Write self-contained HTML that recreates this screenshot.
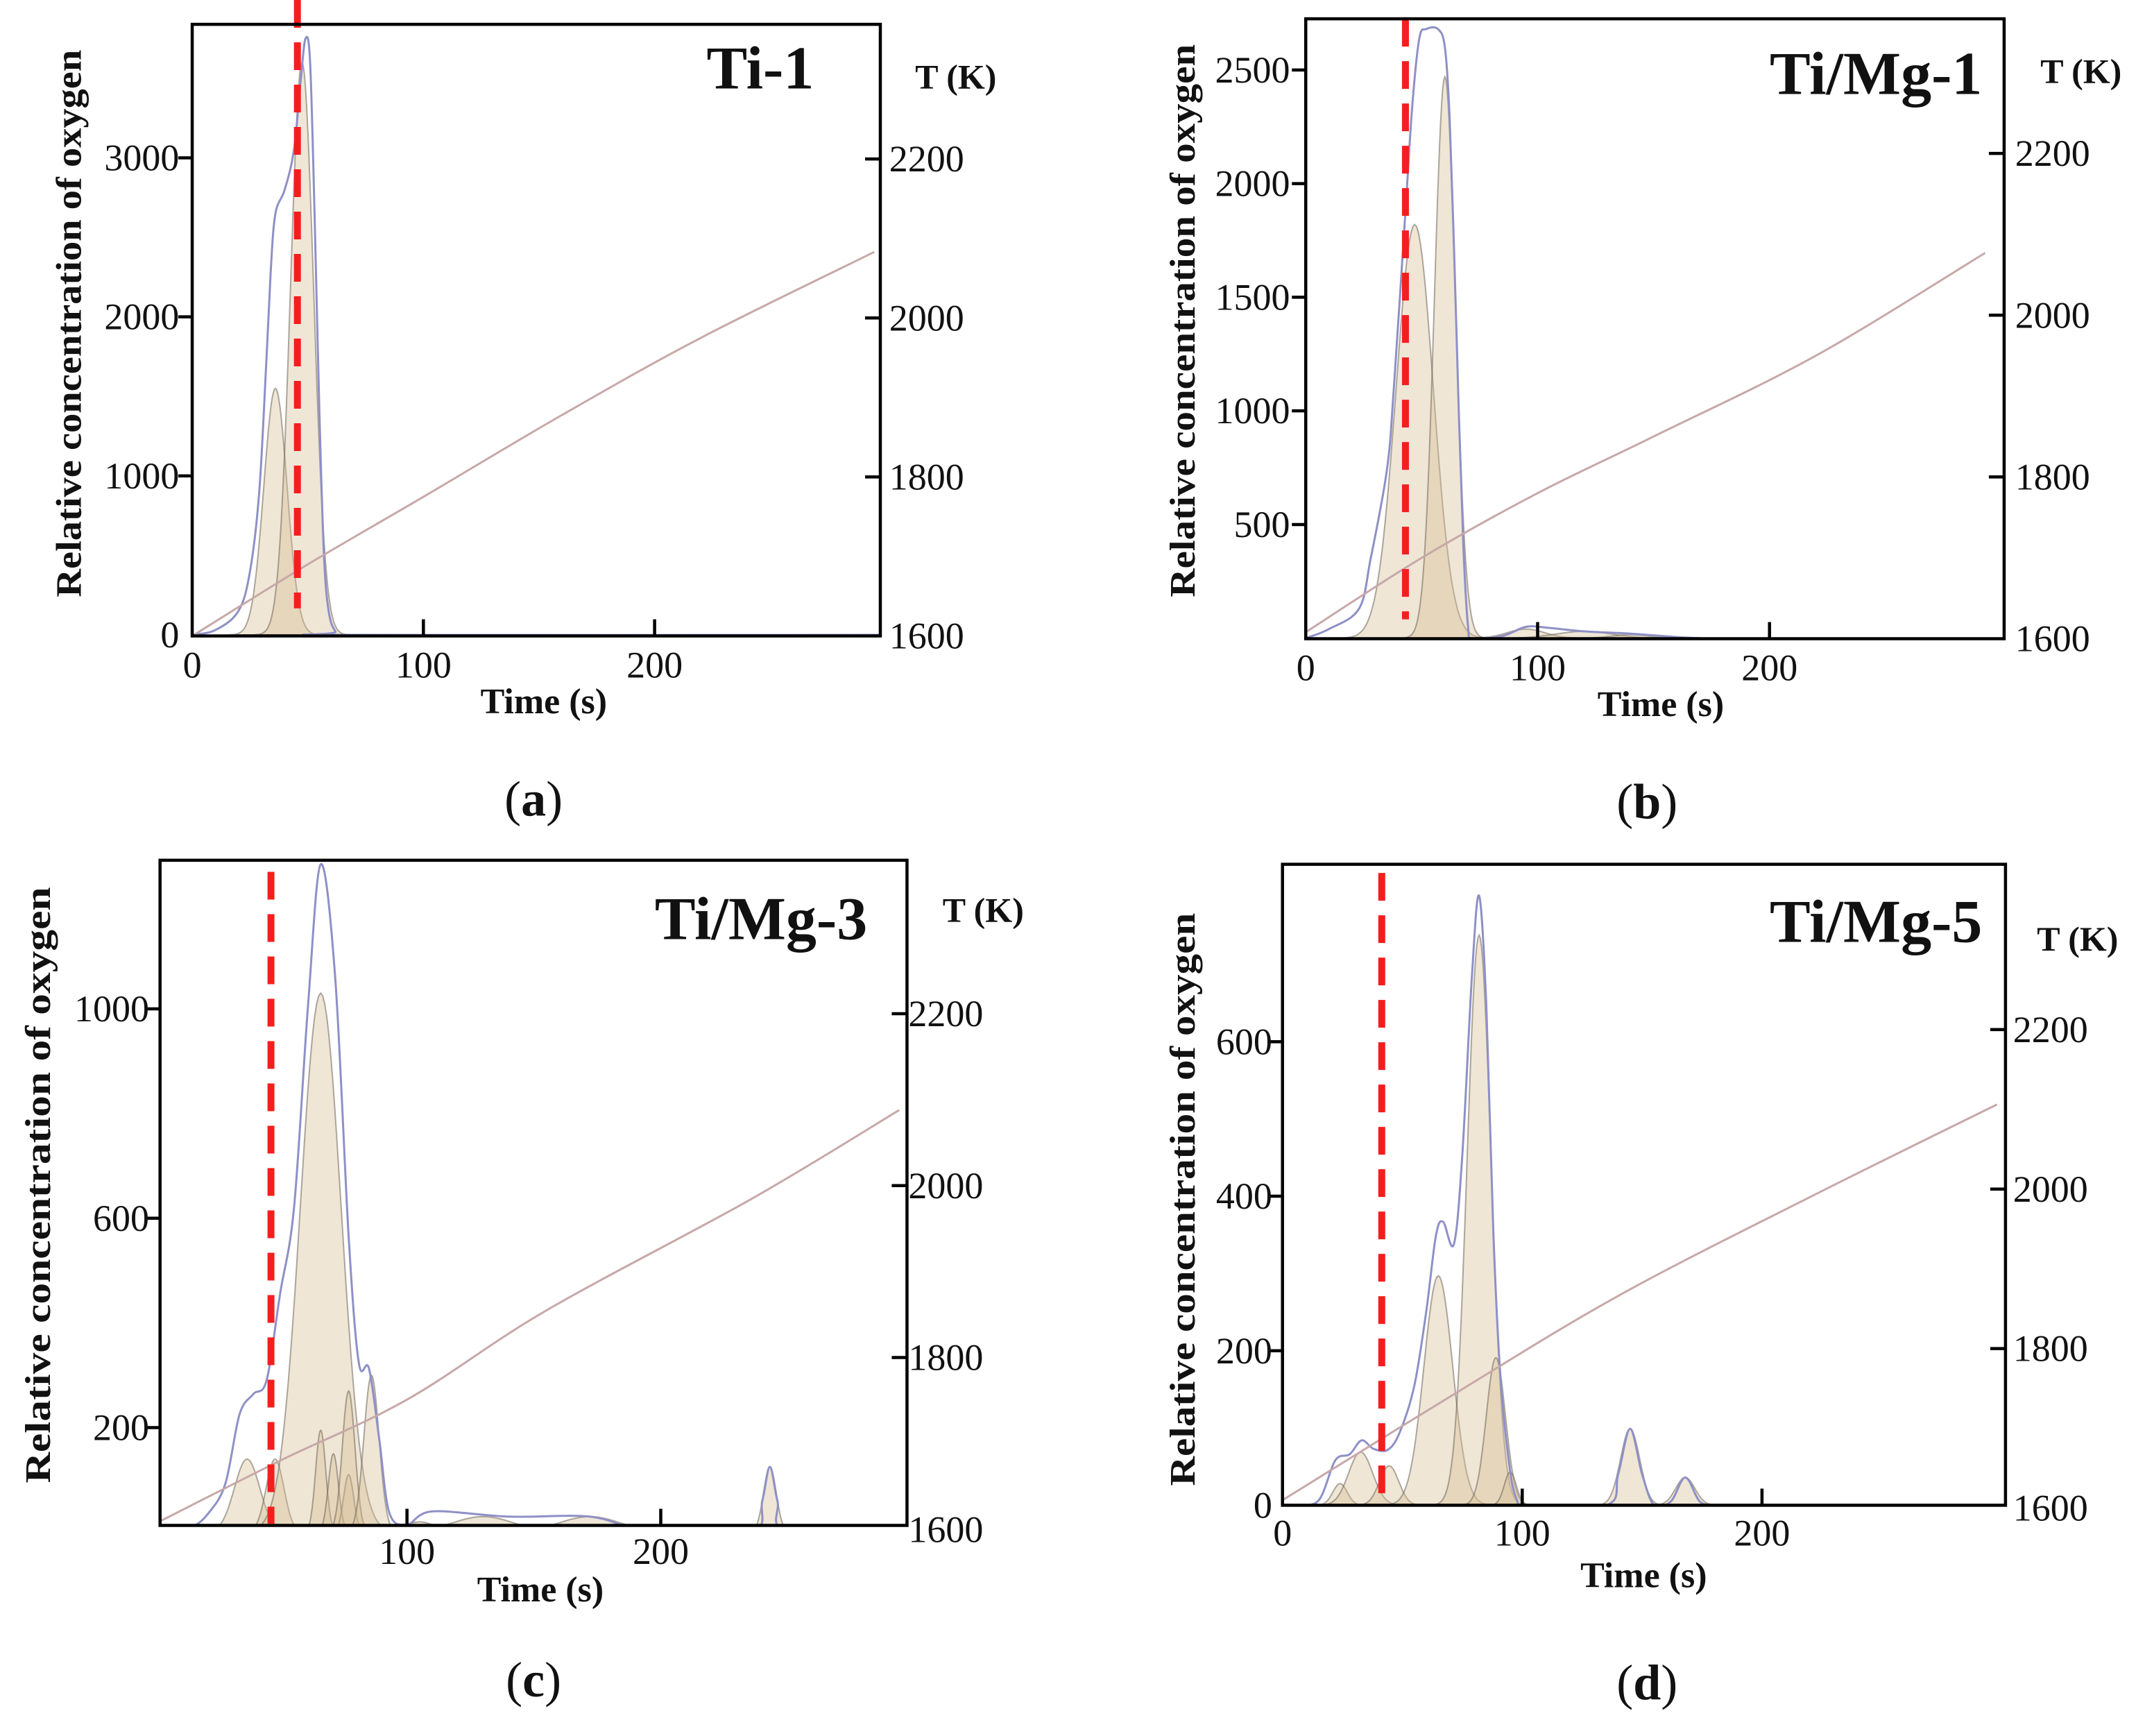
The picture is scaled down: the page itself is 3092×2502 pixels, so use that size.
<!DOCTYPE html>
<html><head><meta charset="utf-8"><style>
html,body{margin:0;padding:0;background:#fff;overflow:hidden}
svg{display:block}
text{font-family:"Liberation Serif",serif;fill:#111}
</style></head><body>
<svg id="fig" width="3092" height="2502" viewBox="0 0 3092 2502" xmlns="http://www.w3.org/2000/svg">
<defs></defs>
</svg>
<script>
// ---------- data ----------
// component peaks: [center time (s), height, sigma (s)]
const peaksA=[[36,1550,5],[47.5,3600,5]];
const peaksB=[[47,1820,8],[60,2470,4.5],[95,40,8],[120,30,12],[140,15,8]];
const peaksC=[[37,140,5],[48,140,3.5],[66,1030,8],[66,195,2],[71,150,2],[77,110,2],[77,270,2.5],[86,300,3],[105,20,6],[130,30,12],[172,30,12],[243,125,2.5]];
const peaksD=[[24,28,3],[32.6,69,5],[44.5,51,4],[65,297,6],[82,738,5],[89,191,4],[95,43,2.5],[145,99,4],[168,36,4]];
// measured envelope [t, value]
const envA=[[0,0],[10,30],[20,150],[25,400],[29,900],[32,1700],[34,2300],[36,2650],[40,2800],[44,3050],[47,3500],[49,3750],[51,3600],[53,2600],[55,1400],[57,500],[59,150],[62,20],[66,0],[297,0]];
const envB=[[0,0],[10,40],[23,130],[28,350],[35,740],[38,1100],[43,1880],[46,2350],[49,2640],[52,2680],[57,2680],[60,2600],[62,2300],[64,1700],[66,1000],[68,400],[70,50],[72,0],[85,10],[95,50],[105,45],[120,30],[140,20],[160,5],[170,0]];
const envC=[[3,0],[15,10],[22,38],[28.5,94],[34,225],[39.4,264],[44.7,291],[50,456],[55.5,621],[61,1006],[66,1276],[71.7,1061],[77,566],[81,324],[85,313],[89,181],[93,38],[100,15],[110,40],[140,30],[172,30],[190,5],[200,0],[236,0],[240,60],[243,125],[246,60],[250,0],[294,0]];
const envD=[[5,0],[15,6],[22,58],[28,66],[33,84],[38,73],[44,72],[49,95],[55,155],[60,252],[64,349],[67,367],[71.5,338],[75,453],[79,684],[82,789],[85,647],[88,349],[91,162],[95,43],[98,5],[100,0],[135,0],[140,40],[145,99],[150,40],[155,0],[162,5],[168,36],[174,5],[180,0]];
// temperature [t, K]
const tempA=[[0,1600],[50,1690],[100,1775],[160,1878],[220,1975],[295,2083]];
const tempB=[[0,1608],[50,1700],[100,1780],[150,1850],[220,1950],[293,2077]];
const tempC=[[3,1610],[50,1680],[100,1751],[155,1855],[236,1985],[294,2088]];
const tempD=[[0,1610],[70,1740],[140,1866],[220,1990],[298,2106]];
// reference time (red dashed line)
const markA=45.5, markB=43, markC=46.4, markD=41.4;
// tick labels
const xTicksAB=[0,100,200], xTicksC=[100,200], xTicksD=[0,100,200];
const yTicksA=[0,1000,2000,3000], yTicksB=[500,1000,1500,2000,2500], yTicksC=[200,600,1000], yTicksD=[0,200,400,600];
const tTicks=[1600,1800,2000,2200];
const titles=["Ti-1","Ti/Mg-1","Ti/Mg-3","Ti/Mg-5"];
const letters=["a","b","c","d"];

// ---------- layout ----------
const NS="http://www.w3.org/2000/svg";
const svg=document.getElementById('fig');
const defs=svg.querySelector('defs');
function mk(tag,attrs,parent){const e=document.createElementNS(NS,tag);for(const k in attrs)e.setAttribute(k,attrs[k]);(parent||svg).appendChild(e);return e;}
function smooth(pts){
 let d='M'+pts[0][0].toFixed(1)+','+pts[0][1].toFixed(1);
 for(let i=0;i<pts.length-1;i++){
  const p0=pts[Math.max(0,i-1)],p1=pts[i],p2=pts[i+1],p3=pts[Math.min(pts.length-1,i+2)];
  const c1x=p1[0]+(p2[0]-p0[0])/6,c1y=p1[1]+(p2[1]-p0[1])/6;
  const c2x=p2[0]-(p3[0]-p1[0])/6,c2y=p2[1]-(p3[1]-p1[1])/6;
  d+=' C'+c1x.toFixed(1)+','+c1y.toFixed(1)+' '+c2x.toFixed(1)+','+c2y.toFixed(1)+' '+p2[0].toFixed(1)+','+p2[1].toFixed(1);
 }
 return d;
}

const raw=[
 {id:'a',ox:0,oy:0,sx:0.986,sy:0.797,L:281,R:1287,T:44,B:1150,x0:281,xs:3.38,y0:1148,ys:0.2875,r0:1150,rs:1.4375,peaks:peaksA,env:envA,temp:tempA,mark:markA,mk0:0,mk1:1100,xt:xTicksAB,yt:yTicksA,
  ytx:100,yty:585,ytl:990,lblR:262,lblRx:1300,xlb:1225,timeX:795,timeY:1290,ttlX:1190,ttlY:160,tkX:1338,tkY:160,letX:780,letY:1475},
 {id:'b',ox:1546,oy:0,sx:0.986,sy:0.797,L:1887,R:2908,T:34,B:1155,x0:1887,xs:3.39,y0:1154,ys:0.411,r0:1155,rs:1.4625,peaks:peaksB,env:envB,temp:tempB,mark:markB,mk0:34,mk1:1120,xt:xTicksAB,yt:yTicksB,
  ytx:1706,yty:580,ytl:1000,lblR:1864,lblRx:2924,xlb:1230,timeX:2406,timeY:1295,ttlX:2876,ttlY:170,tkX:2961,tkY:150,letX:2386,letY:1480},
 {id:'c',ox:0,oy:1200,sx:0.986,sy:0.830,L:234,R:1326,T:1248,B:2403,x0:224,xs:3.71,y0:2415,ys:0.909,r0:2410,rs:1.4925,peaks:peaksC,env:envC,temp:tempC,mark:markC,mk0:1268,mk1:2400,xt:xTicksC,yt:yTicksC,
  ytx:55,yty:1812,ytl:1035,lblR:218,lblRx:1328,xlb:2470,timeX:790,timeY:2535,ttlX:1268,ttlY:1385,tkX:1378,tkY:1355,letX:780,letY:2700},
 {id:'d',ox:1546,oy:1200,sx:0.986,sy:0.830,L:1853,R:2910,T:1255,B:2368,x0:1853,xs:3.505,y0:2368,ys:1.3415,r0:2373,rs:1.385,peaks:peaksD,env:envD,temp:tempD,mark:markD,mk0:1270,mk1:2360,xt:xTicksD,yt:yTicksD,
  ytx:1706,yty:1837,ytl:995,lblR:1838,lblRx:2921,xlb:2438,timeX:2381,timeY:2510,ttlX:2876,ttlY:1390,tkX:2956,tkY:1405,letX:2386,letY:2705}
];
const hKeys=['L','R','x0','lblR','lblRx','timeX','ttlX','tkX','letX','ytx'];
const vKeys=['T','B','y0','r0','mk0','mk1','xlb','timeY','ttlY','tkY','letY','yty'];
const panels=raw.map(r=>{const p=Object.assign({},r);
 hKeys.forEach(k=>p[k]=r.ox+(r[k]-r.ox)*r.sx);
 vKeys.forEach(k=>p[k]=r.oy+(r[k]-r.oy)*r.sy);
 p.xs=r.xs*r.sx; p.ys=r.ys*r.sy; p.rs=r.rs*r.sy; p.ytl=r.ytl*r.sy; return p;});

panels.forEach((p,i)=>{
 const X=t=>p.x0+t*p.xs, Y=v=>p.y0-v*p.ys, YR=k=>p.r0-(k-1600)*p.rs;
 const cp=mk('clipPath',{id:'clip'+p.id},defs);
 mk('rect',{x:p.L,y:p.T,width:p.R-p.L,height:p.B-p.T},cp);
 const g=mk('g',{});
 
 
 const plot=mk('g',{'clip-path':'url(#clip'+p.id+')'},g);
 
 
 p.peaks.forEach((pk,j)=>{
  const [c,h,s]=pk; let d='M'+X(c-4*s)+','+Y(0);
  for(let k=0;k<=80;k++){const t=c-4*s+k*8*s/80;d+=' L'+X(t).toFixed(1)+','+Y(h*Math.exp(-(t-c)*(t-c)/(2*s*s))).toFixed(1);}
  d+=' L'+X(c+4*s)+','+Y(0)+'Z';
  const e=mk('path',{d:d,fill:'rgba(214,190,148,0.38)',stroke:'rgba(110,100,90,0.55)','stroke-width':2},plot);
  
  
 });
 const env=mk('path',{d:smooth(p.env.map(q=>[X(q[0]),Y(q[1])])),fill:'none',stroke:'#8e90c6','stroke-width':3,'stroke-linejoin':'round'},plot);
 
 
 const tl=mk('path',{d:smooth(p.temp.map(q=>[X(q[0]),YR(q[1])])),fill:'none',stroke:'#c7a8a8','stroke-width':3},g);
 
 
 const rl=mk('line',{x1:X(p.mark),x2:X(p.mark),y1:p.mk0,y2:p.mk1,stroke:'#f51e1e','stroke-width':10,'stroke-dasharray':'40 21'},g);
 
 
 const fr=mk('rect',{x:p.L,y:p.T,width:p.R-p.L,height:p.B-p.T,fill:'none',stroke:'#000','stroke-width':4.5},g);
 
 
 p.xt.forEach(t=>{
  if(t>0){const tk=mk('line',{x1:X(t),x2:X(t),y1:p.B,y2:p.B-24,stroke:'#000','stroke-width':4.5},g);
   
   }
  const tx=mk('text',{x:X(t),y:p.xlb,'font-size':54,'text-anchor':'middle'},g);tx.textContent=t;
  
  
 });
 p.yt.forEach(v=>{
  if(v>0){const tk=mk('line',{x1:p.L-20,x2:p.L,y1:Y(v),y2:Y(v),stroke:'#000','stroke-width':4.5},g);
   
   }
  const tx=mk('text',{x:p.lblR,y:Y(v)+18,'font-size':54,'text-anchor':'end'},g);tx.textContent=v;
  
  
 });
 tTicks.forEach(k=>{
  if(k>1600){const tk=mk('line',{x1:p.R-22,x2:p.R,y1:YR(k),y2:YR(k),stroke:'#000','stroke-width':4.5},g);
   
   }
  const tx=mk('text',{x:p.lblRx,y:YR(k)+18,'font-size':54},g);tx.textContent=k;
  
  
 });
 const yt=mk('text',{x:0,y:0,'font-size':52,'font-weight':'bold','text-anchor':'middle',transform:'translate('+(p.ytx+18)+','+p.yty+') rotate(-90)',textLength:p.ytl,lengthAdjust:'spacingAndGlyphs'},g);
 yt.textContent='Relative concentration of oxygen';
 
 
 const xt=mk('text',{x:p.timeX,y:p.timeY,'font-size':52,'font-weight':'bold','text-anchor':'middle','xml:space':'preserve'},g);
 xt.textContent='Time  (s)';
 
 
 const tt=mk('text',{x:p.ttlX,y:p.ttlY,'font-size':88,'font-weight':'bold','text-anchor':'end'},g);
 tt.textContent=titles[i];
 
 
 const tk=mk('text',{x:p.tkX,y:p.tkY,'font-size':50,'font-weight':'bold'},g);
 tk.textContent='T (K)';
 
 
 const lt=mk('text',{x:p.letX,y:p.letY,'font-size':72,'text-anchor':'middle'},g);
 lt.innerHTML='(<tspan font-weight="bold">'+letters[i]+'</tspan>)';
 
 
});
</script>
</body></html>
